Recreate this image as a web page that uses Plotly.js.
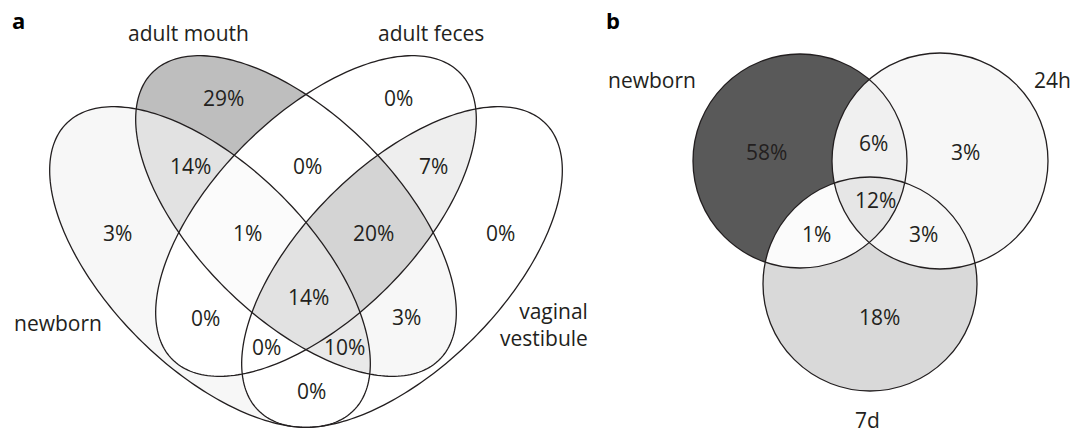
<!DOCTYPE html>
<html>
<head>
<meta charset="utf-8">
<script src="https://cdn.plot.ly/plotly-3.0.1.min.js"></script>
<style>
html, body { margin: 0; padding: 0; background: #ffffff; }
#chart { width: 1083px; height: 433px; }
</style>
</head>
<body>
<div id="chart"></div>
<script>
// ---------------- DATA ----------------
// Panel a: four-set Venn (A = newborn, B = adult mouth, C = adult feces, D = vaginal vestibule)
const setsA = ["newborn", "adult mouth", "adult feces", "vaginal\nvestibule"];
const regionsA = ["A", "B", "C", "D", "AB", "AC", "AD", "BC", "BD", "CD", "ABC", "ABD", "ACD", "BCD", "ABCD"];
const pctA =     [ 3,   29,  0,   0,   14,   0,    0,    0,    3,    7,    1,     10,    0,     20,    14];

// Panel b: three-set Venn (A = newborn, B = 24h, C = 7d)
const setsB = ["newborn", "24h", "7d"];
const regionsB = ["A", "B", "C", "AB", "AC", "BC", "ABC"];
const pctB =     [58,  3,   18,  6,    1,    3,    12];

const panelLabels = ["a", "b"];

// ---------------- STYLE / LAYOUT ----------------
const FONT = "Open Sans, Noto Sans, sans-serif";
const FS = 21;
const INK = "#231f20";
// grey level used for a region, keyed by its percentage
const shadeAnchorsPct = [0, 1, 3, 7, 10, 14, 20, 29, 58];
const shadeAnchorsGrey = [255, 251, 247, 238, 233, 226, 212, 190, 89];

// ellipse geometry (pixel space, y downwards); rot in degrees
const ellA = [
  {cx: 210, cy: 267, a: 203, b: 101, rot: 45},
  {cx: 296, cy: 216, a: 203, b: 101, rot: 45},
  {cx: 316, cy: 216, a: 203, b: 101, rot: -45},
  {cx: 402, cy: 267, a: 203, b: 101, rot: -45}
];
const circB = [
  {cx: 800, cy: 161, r: 107},
  {cx: 940, cy: 161, r: 108},
  {cx: 870, cy: 284, r: 107}
];
const labelPosA = {
  A: [117, 233], B: [223, 98], C: [398, 98], D: [500, 233],
  AB: [190, 166], AC: [205, 318], AD: [311, 391], BC: [307, 166], BD: [406, 317], CD: [433, 166],
  ABC: [247, 233], ABD: [344, 347], ACD: [266, 347], BCD: [373, 233], ABCD: [308, 297]
};
const labelPosB = {
  A: [766, 152], B: [965, 152], C: [879, 317], AB: [873, 143], AC: [816, 234], BC: [923, 234], ABC: [875, 200]
};
const setLabelPosA = [
  {x: 58, y: 323, xanchor: "center"},
  {x: 188, y: 33, xanchor: "center"},
  {x: 431, y: 33, xanchor: "center"},
  {x: 590, y: 324, xanchor: "right"}
];
const setLabelPosB = [
  {x: 652, y: 80, xanchor: "center"},
  {x: 1052, y: 80, xanchor: "center"},
  {x: 867, y: 420, xanchor: "center"}
];
const panelLabelPos = [[18, 20], [613, 20]];

const W = 1083, H = 433;

// ---------------- HELPERS ----------------
const letters = "ABCD";
function insideEllipse(e, x, y) {
  const t = e.rot * Math.PI / 180;
  const dx = x - e.cx, dy = y - e.cy;
  const u = dx * Math.cos(t) + dy * Math.sin(t);
  const v = -dx * Math.sin(t) + dy * Math.cos(t);
  return (u * u) / (e.a * e.a) + (v * v) / (e.b * e.b) <= 1;
}
function insideCircle(c, x, y) {
  const dx = x - c.cx, dy = y - c.cy;
  return dx * dx + dy * dy <= c.r * c.r;
}
function regionGrid(x0, x1, y0, y1, tests, regions, pcts) {
  const lookup = {};
  regions.forEach((k, i) => lookup[k] = pcts[i]);
  const z = [];
  for (let y = y0; y < y1; y++) {
    const row = [];
    for (let x = x0; x < x1; x++) {
      const px = x + 0.5, py = y + 0.5;
      let key = "";
      tests.forEach((f, i) => { if (f(px, py)) key += letters[i]; });
      row.push(key === "" ? null : lookup[key]);
    }
    z.push(row);
  }
  return z;
}
function ellipsePath(e) {
  const t = e.rot * Math.PI / 180, n = 240;
  let d = "";
  for (let i = 0; i <= n; i++) {
    const s = 2 * Math.PI * i / n;
    const x = e.cx + e.a * Math.cos(s) * Math.cos(t) - e.b * Math.sin(s) * Math.sin(t);
    const y = e.cy + e.a * Math.cos(s) * Math.sin(t) + e.b * Math.sin(s) * Math.cos(t);
    d += (i === 0 ? "M" : "L") + x.toFixed(2) + "," + y.toFixed(2);
  }
  return d + "Z";
}

const zmax = shadeAnchorsPct[shadeAnchorsPct.length - 1];
const colorscale = shadeAnchorsPct.map((p, i) => {
  const g = shadeAnchorsGrey[i];
  return [p / zmax, "rgb(" + g + "," + g + "," + g + ")"];
});

// ---------------- TRACES ----------------
const boxA = [35, 585, 45, 433];
const boxB = [685, 1060, 45, 400];
const zA = regionGrid(boxA[0], boxA[1], boxA[2], boxA[3], ellA.map(e => (x, y) => insideEllipse(e, x, y)), regionsA, pctA);
const zB = regionGrid(boxB[0], boxB[1], boxB[2], boxB[3], circB.map(c => (x, y) => insideCircle(c, x, y)), regionsB, pctB);

function hm(z, box) {
  return {
    type: "heatmap", z: z,
    x0: box[0] + 0.5, dx: 1, y0: box[2] + 0.5, dy: 1,
    colorscale: colorscale, zmin: 0, zmax: zmax,
    showscale: false, hoverinfo: "skip", zsmooth: false
  };
}
const traces = [hm(zA, boxA), hm(zB, boxB)];

// ---------------- SHAPES ----------------
const shapes = [];
ellA.forEach(e => shapes.push({type: "path", path: ellipsePath(e), xref: "x", yref: "y",
  line: {color: INK, width: 1.3}, fillcolor: "rgba(0,0,0,0)"}));
circB.forEach(c => shapes.push({type: "circle", xref: "x", yref: "y",
  x0: c.cx - c.r, x1: c.cx + c.r, y0: c.cy - c.r, y1: c.cy + c.r,
  line: {color: INK, width: 1.3}, fillcolor: "rgba(0,0,0,0)"}));

// ---------------- ANNOTATIONS ----------------
const ann = [];
function txt(x, y, text, extra) {
  return Object.assign({x: x, y: y, xref: "x", yref: "y", text: text, showarrow: false,
    xanchor: "center", yanchor: "middle", font: {family: FONT, size: FS, color: INK}}, extra || {});
}
regionsA.forEach((k, i) => { const p = labelPosA[k]; ann.push(txt(p[0], p[1], pctA[i] + "%")); });
regionsB.forEach((k, i) => { const p = labelPosB[k]; ann.push(txt(p[0], p[1], pctB[i] + "%")); });
setsA.forEach((s, i) => { const p = setLabelPosA[i];
  ann.push(txt(p.x, p.y, s.replace("\n", "<br>"), {xanchor: p.xanchor, align: p.xanchor === "right" ? "right" : "center"})); });
setsB.forEach((s, i) => { const p = setLabelPosB[i]; ann.push(txt(p.x, p.y, s, {xanchor: p.xanchor})); });
panelLabels.forEach((s, i) => { const p = panelLabelPos[i];
  ann.push(txt(p[0], p[1], "<b>" + s + "</b>", {font: {family: "Open Sans, sans-serif", size: 22, color: "#000"}})); });

const layout = {
  width: W, height: H,
  margin: {l: 0, r: 0, t: 0, b: 0, pad: 0},
  paper_bgcolor: "#ffffff", plot_bgcolor: "#ffffff",
  showlegend: false,
  xaxis: {range: [0, W], visible: false, fixedrange: true, showgrid: false, zeroline: false},
  yaxis: {range: [H, 0], visible: false, fixedrange: true, showgrid: false, zeroline: false},
  shapes: shapes,
  annotations: ann
};
Plotly.newPlot("chart", traces, layout, {staticPlot: true, displayModeBar: false});
</script>
</body>
</html>
